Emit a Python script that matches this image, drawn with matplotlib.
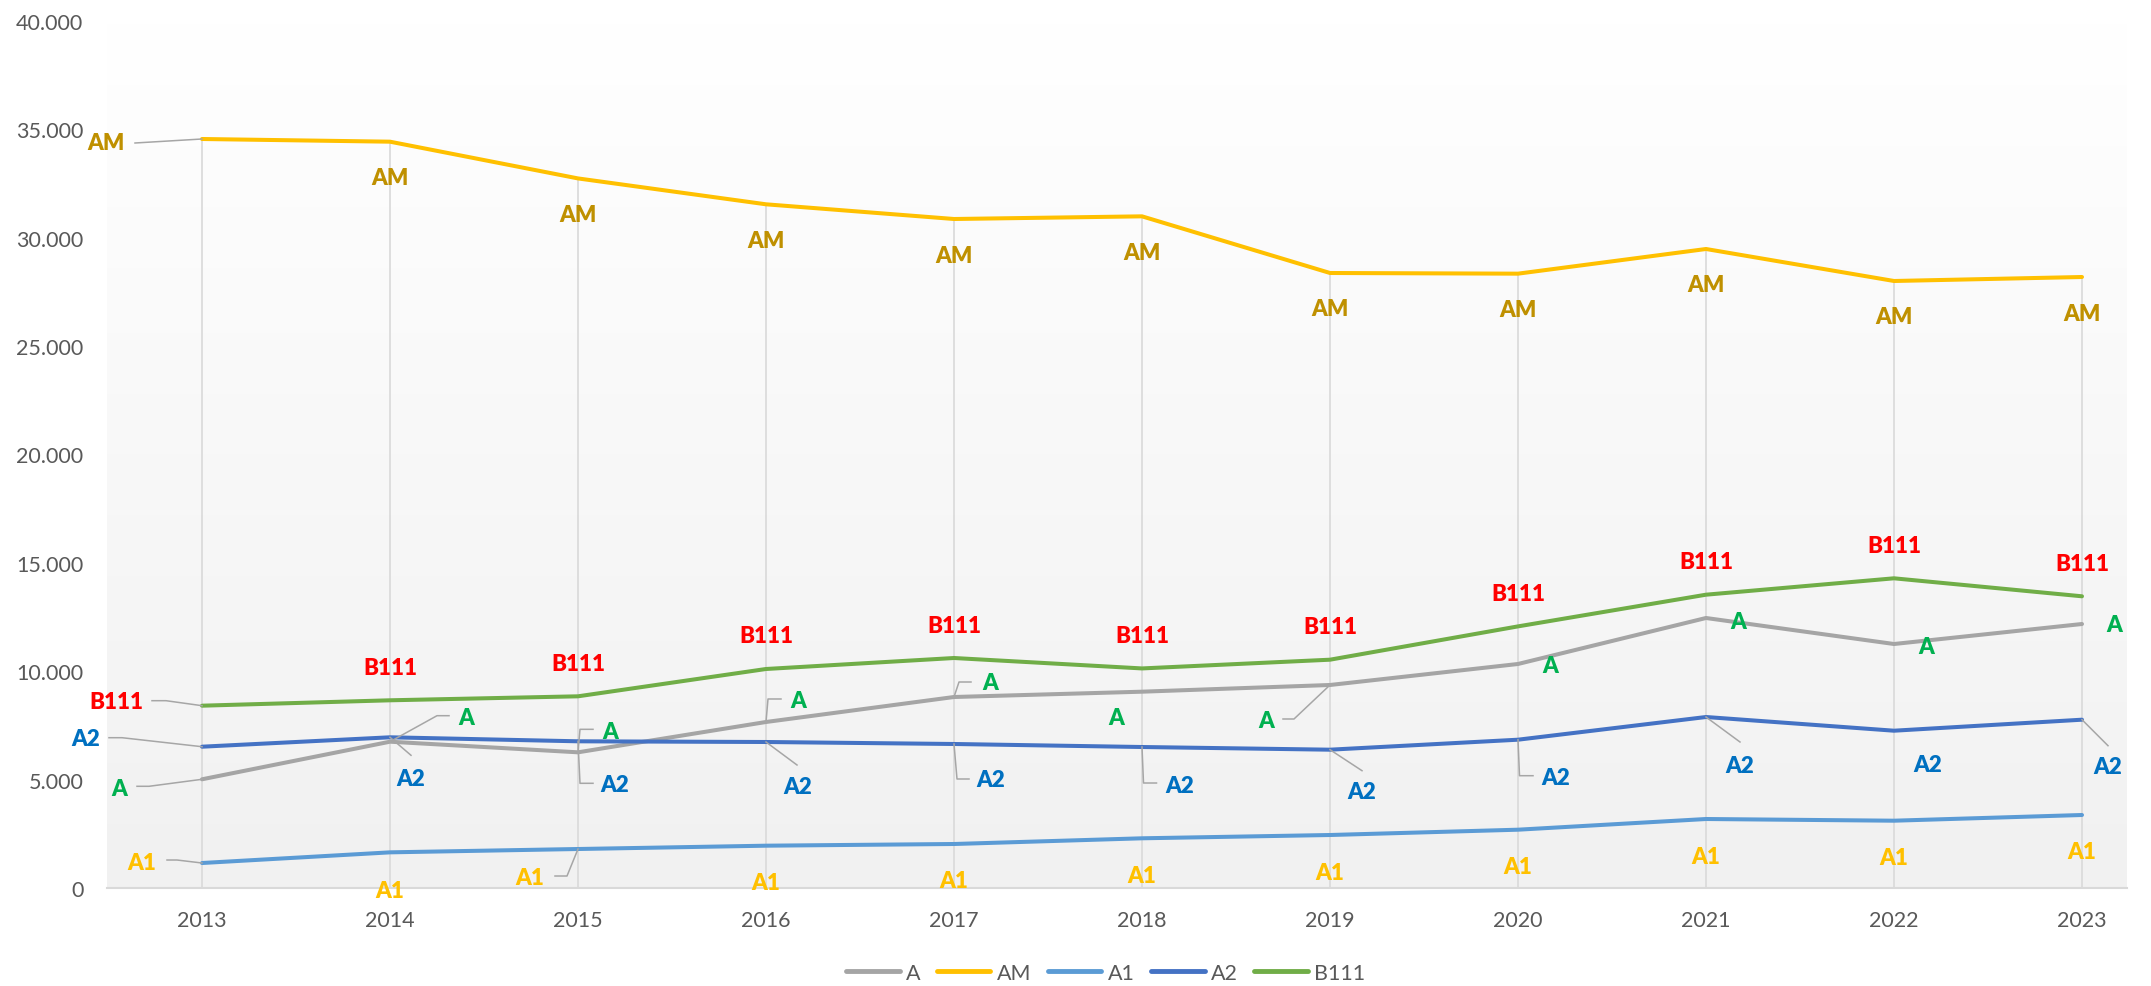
import numpy as np
import matplotlib
matplotlib.use("Agg")
import matplotlib.pyplot as plt
import matplotlib.transforms as mtransforms
from matplotlib.lines import Line2D
from matplotlib.ticker import FuncFormatter

# ---------------- data ----------------
years = ["2013", "2014", "2015", "2016", "2017", "2018", "2019", "2020", "2021", "2022", "2023"]
series_names = ["A", "AM", "A1", "A2", "B111"]
A = [5015, 6750, 6260, 7659, 8812, 9057, 9366, 10335, 12457, 11257, 12180]
AM = [34556, 34432, 32737, 31543, 30865, 30988, 28374, 28343, 29481, 28005, 28189]
A1 = [1153, 1645, 1799, 1952, 2030, 2293, 2445, 2690, 3183, 3105, 3368]
A2 = [6519, 6953, 6768, 6736, 6644, 6505, 6381, 6842, 7889, 7257, 7765]
B111 = [8411, 8660, 8844, 10104, 10611, 10130, 10533, 12070, 13532, 14288, 13458]
y_ticks = [0, 5000, 10000, 15000, 20000, 25000, 30000, 35000, 40000]

# ---------------- styles ----------------
line_colors = {"A": "#A5A5A5", "AM": "#FFC000", "A1": "#5B9BD5", "A2": "#4472C4", "B111": "#70AD47"}
label_colors = {"A": "#00B050", "AM": "#BF9000", "A1": "#FFC000", "A2": "#0070C0", "B111": "#FF0000"}

# label layout: (label offset px), leader vertices px (relative to the point), y up
layout = {
    "AM": [((-96, -4), [(0, 0), (-67, -4)])] + [((0, -36), None)] * 10,
    "B111": [((-86, 4), [(0, 0), (-36, 5), (-50, 5)])] + [((0, 33), None)] * 10,
    "A": [
        ((-83, -9), [(0, 0), (-53, -7), (-65, -7)]),
        ((76, 24), [(0, 0), (47, 26), (59, 26)]),
        ((32, 21), [(0, 0), (2, 23), (15, 23)]),
        ((32, 21), [(0, 0), (2, 23), (15, 23)]),
        ((36, 14), [(0, 0), (5, 15), (17, 15)]),
        ((-26, -26), None),
        ((-64, -36), [(0, 0), (-36, -34), (-47, -34)]),
        ((32, -2), None),
        ((32, -4), None),
        ((32, -2), None),
        ((32, -1), None),
    ],
    "A2": [
        ((-116, 8), [(0, 0), (-80, 9), (-93, 9)]),
        ((21, -41), [(0, 0), (21, -18)]),
        ((37, -43), [(0, 0), (2, -42), (15, -42)]),
        ((32, -45), [(0, 0), (31, -23)]),
        ((37, -36), [(0, 0), (3, -35), (15, -35)]),
        ((38, -38), [(0, 0), (1.5, -36), (14.5, -36)]),
        ((32, -42), [(0, 0), (32, -21)]),
        ((38, -38), [(0, 0), (1.5, -36), (15, -36)]),
        ((34, -48), [(0, 0), (34, -25)]),
        ((34, -34), None),
        ((26, -47), [(0, 0), (26, -26)]),
    ],
    "A1": [
        ((-60, 1), [(0, 0), (-25, 3), (-35, 3)]),
        ((0, -38), None),
        ((-48, -28), [(0, 0), (-11, -27), (-23, -27)]),
    ] + [((0, -37), None)] * 8,
}

DPI = 100
W, H = 2151, 987
fig = plt.figure(figsize=(W / DPI, H / DPI), dpi=DPI)
fig.patch.set_facecolor("white")

ax_left, ax_right, ax_bottom_px, ax_top_px = 107, 2127, 889, 22
ax = fig.add_axes([ax_left / W, 1 - ax_bottom_px / H, (ax_right - ax_left) / W, (ax_bottom_px - ax_top_px) / H])

x = np.arange(len(years))
step_px = 188.0
first_px = 202.0
xmin = -(first_px - ax_left) / step_px
xmax = (ax_right - first_px) / step_px
ax.set_xlim(xmin, xmax)
ax.set_ylim(0, 40000)

# gradient background
grad = np.linspace(1.0, 0.0, 256).reshape(-1, 1)
top = np.array([1.0, 1.0, 1.0])
bot = np.array([0xF1, 0xF1, 0xF1]) / 255.0
img = top * grad[..., None] + bot * (1 - grad[..., None])
ax.imshow(img, extent=[0, 1, 0, 1], transform=ax.transAxes, aspect="auto", zorder=0)
ax.set_facecolor("white")

data = {"A": A, "AM": AM, "A1": A1, "A2": A2, "B111": B111}

# drop lines
maxvals = np.max(np.array([data[n] for n in series_names]), axis=0)
ax.vlines(x, 0, maxvals, colors="#D9D9D9", lw=1.2, zorder=1)

for n in series_names:
    ax.plot(x, data[n], color=line_colors[n], lw=2.9, zorder=3, solid_capstyle="round",
            solid_joinstyle="round", label=n)

# labels
lab_font = dict(family=["Lato", "DejaVu Sans"], fontweight="heavy", fontsize=16)
for n in series_names:
    for i, v in enumerate(data[n]):
        (dx, dy), leader = layout[n][i]
        ax.annotate(n, xy=(x[i], v), xytext=(dx * 72 / DPI, dy * 72 / DPI), textcoords="offset points",
                    ha="center", va="center", color=label_colors[n], zorder=6, **lab_font)
        if leader is not None:
            tr = fig.dpi_scale_trans + mtransforms.ScaledTranslation(x[i], v, ax.transData)
            lx = [p[0] / DPI for p in leader]
            ly = [p[1] / DPI for p in leader]
            ax.add_line(Line2D(lx, ly, transform=tr, color="#A6A6A6", lw=1.1, zorder=5))

# axes styling
for s in ["left", "right", "top"]:
    ax.spines[s].set_visible(False)
ax.spines["bottom"].set_color("#D9D9D9")
ax.spines["bottom"].set_linewidth(1.5)
ax.spines["bottom"].set_zorder(2)
ax.set_xticks(x)
ax.set_xticklabels(years)
ax.set_yticks(y_ticks)
ax.yaxis.set_major_formatter(FuncFormatter(lambda v, p: f"{int(v):,}".replace(",", ".")))
ax.tick_params(axis="both", length=0, labelsize=15.5, labelcolor="#595959")
ax.tick_params(axis="y", pad=17)
ax.tick_params(axis="x", pad=16)
for lbl in ax.get_xticklabels() + ax.get_yticklabels():
    lbl.set_family(["Lato", "DejaVu Sans"])

leg = fig.legend(loc="center", bbox_to_anchor=(0.514, 1 - 974 / H), ncol=5, frameon=False,
                 prop={"family": ["Lato", "DejaVu Sans"], "size": 15.5}, handlelength=2.5,
                 handletextpad=0.3, columnspacing=0.75, labelcolor="#595959")
for h in leg.legend_handles:
    h.set_linewidth(3.5)
    h.set_solid_capstyle("round")

fig.savefig("out.png", dpi=DPI)
